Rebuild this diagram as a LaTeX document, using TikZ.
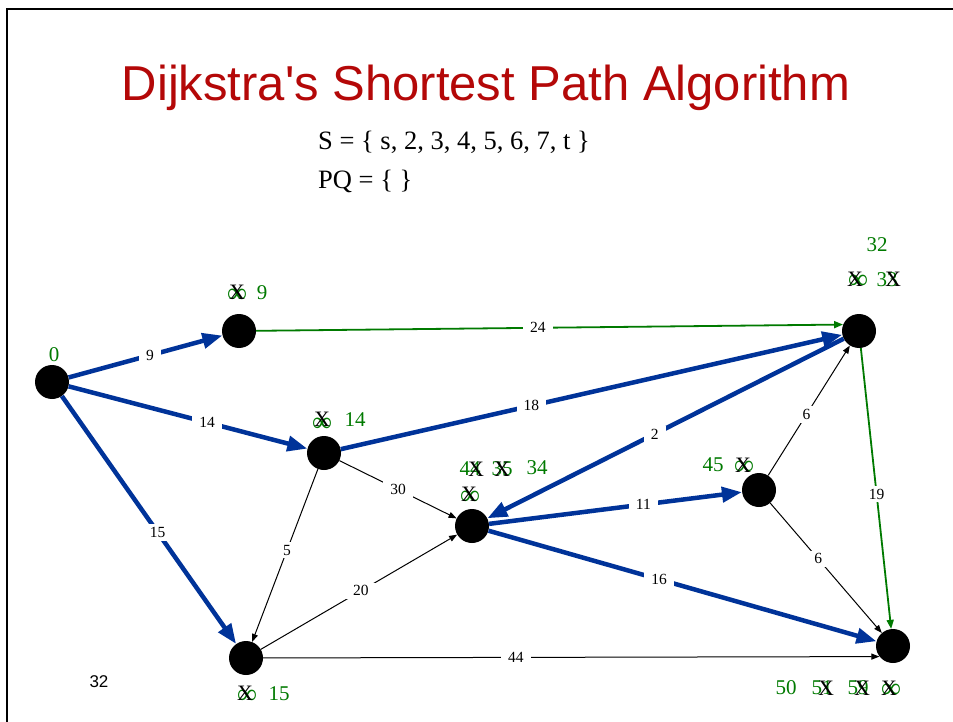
\documentclass[tikz,border=0pt]{standalone}
\usepackage{fontspec}
\setmainfont{Liberation Serif}
\newfontfamily\arialfont{Liberation Sans}
\usetikzlibrary{arrows.meta}
\definecolor{gr}{RGB}{0,122,0}
\definecolor{bl}{RGB}{0,51,153}
\definecolor{ttl}{RGB}{180,8,8}
\begin{document}
\begin{tikzpicture}[x=1pt,y=-1pt,
  vtx/.style={circle,fill=black,minimum size=34pt,inner sep=0pt},
  wlab/.style={fill=white,inner xsep=7pt,inner ysep=3pt,font=\fontsize{15.5}{15.5}\selectfont,text=black},
  bedge/.style={draw=bl,line width=4.5pt,-{Triangle[length=20pt,width=15pt]}},
  gedge/.style={draw=gr,line width=1.8pt,-{Triangle[length=9pt,width=7pt]}},
  kedge/.style={draw=black,line width=1pt,-{Triangle[length=8pt,width=6pt]}},
  dist/.style={text=gr,font=\fontsize{21}{21}\selectfont,inner sep=0pt},
  inf/.style={text=gr,font=\fontsize{28}{28}\selectfont,inner sep=0pt},
  xm/.style={text=black,font=\fontsize{22}{22}\selectfont,inner sep=0pt}]
\useasboundingbox (0,0) rectangle (953,722);
\fill[white] (0,0) rectangle (953,722);
\draw[line width=2.5pt] (7,730) -- (7,9) -- (960,9);
\node[font=\arialfont\fontsize{49}{49}\selectfont,text=ttl] (title) at (486,88) {Dijkstra's Shortest Path Algorithm};
\node[anchor=west,font=\fontsize{26.5}{26.5}\selectfont,inner sep=0pt] (sset) at (318,142) {S = \{ s, 2, 3, 4, 5, 6, 7, t \}};
\node[anchor=west,font=\fontsize{26.5}{26.5}\selectfont,inner sep=0pt] (pq) at (318,181) {PQ = \{ \}};
\node[font=\arialfont\fontsize{17}{17}\selectfont] (pg) at (99,682) {32};

\node[vtx] (s) at (52,382) {};
\node[vtx] (n2) at (239,331) {};
\node[vtx] (n3) at (324,453) {};
\node[vtx] (n7) at (246,658) {};
\node[vtx] (n5) at (472,526) {};
\node[vtx] (n4) at (759,490) {};
\node[vtx] (tr) at (859,331) {};
\node[vtx] (t) at (893,646) {};

\draw[bedge] (s) -- node[wlab,pos=0.53] (w1) {9} (n2);
\draw[bedge] (s) -- node[wlab,pos=0.58] (w2) {14} (n3);
\draw[bedge] (s) -- node[wlab,pos=0.55] (w3) {15} (n7);
\draw[gedge] (n2) -- node[wlab,pos=0.48] (w4) {24} (tr.158);
\draw[bedge] (n3) -- node[wlab,pos=0.38] (w5) {18} (tr);
\draw[bedge] (tr) -- node[wlab,pos=0.53] (w6) {2} (n5);
\draw[gedge] (tr) -- node[wlab,pos=0.52] (w7) {19} (t);
\draw[kedge] (n4) -- node[wlab,pos=0.47] (w8) {6} (tr);
\draw[kedge] (n4) -- node[wlab,pos=0.43] (w9) {6} (t);
\draw[bedge] (n5) -- node[wlab,pos=0.61] (w10) {11} (n4);
\draw[bedge] (n5) -- node[wlab,pos=0.44] (w11) {16} (t);
\draw[kedge] (n3) -- node[wlab,pos=0.5] (w12) {30} (n5);
\draw[kedge] (n3) -- node[wlab,pos=0.47] (w13) {5} (n7);
\draw[kedge] (n7) -- node[wlab,pos=0.51] (w14) {20} (n5);
\draw[kedge] (n7) -- node[wlab,pos=0.41] (w15) {44} (t.218);

% distance labels
\node[dist] (d0) at (54,355) {0};
\node[inf] (d2a) at (237,296) {∞};
\node[xm] (x2a) at (237,292) {X};
\node[dist] (d2b) at (262,293) {9};
\node[inf] (d3a) at (322,425) {∞};
\node[xm] (x3a) at (322,419) {X};
\node[dist] (d3b) at (355,420) {14};
\node[inf] (d7a) at (247,697) {∞};
\node[xm] (x7a) at (245,693) {X};
\node[dist] (d7b) at (279,694) {15};
\node[dist] (d5a) at (470,469) {44};
\node[xm] (x5a) at (476,469) {X};
\node[dist] (d5b) at (502,469) {35};
\node[xm] (x5b) at (502,469) {X};
\node[dist] (d5c) at (537,468) {34};
\node[inf] (d5d) at (470,498) {∞};
\node[xm] (x5d) at (469,494) {X};
\node[dist] (d4a) at (713,465) {45};
\node[inf] (d4b) at (744,468) {∞};
\node[xm] (x4b) at (743,465) {X};
\node[dist] (dta) at (877,245) {32};
\node[inf] (dtb) at (858,282) {∞};
\node[xm] (xtb) at (855,279) {X};
\node[dist] (dtc) at (887,280) {33};
\node[xm] (xtc) at (893,279) {X};
\node[dist] (dra) at (786,688) {50};
\node[dist] (drb) at (822,688) {51};
\node[xm] (xrb) at (826,688) {X};
\node[dist] (drc) at (858,688) {59};
\node[xm] (xrc) at (862,688) {X};
\node[inf] (drd) at (891,691) {∞};
\node[xm] (xrd) at (889,688) {X};
\end{tikzpicture}
\end{document}
